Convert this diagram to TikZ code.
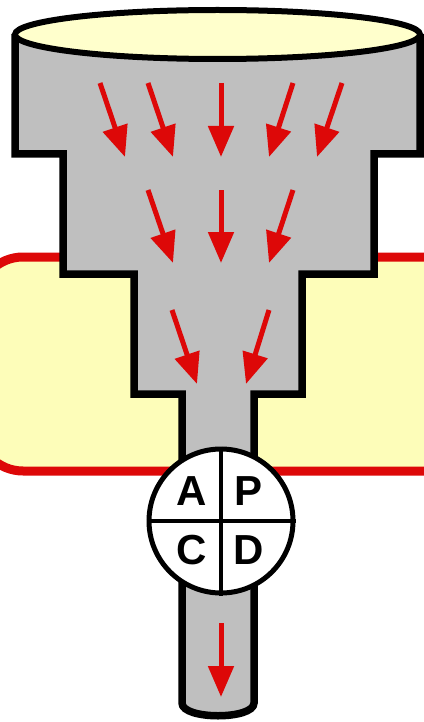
\documentclass[tikz,border=0pt]{standalone}
\usepackage{fontspec}
\setmainfont{Liberation Sans}
\usetikzlibrary{arrows.meta,shapes.geometric}
\definecolor{fred}{RGB}{221,8,8}
\definecolor{byel}{RGB}{253,253,185}
\definecolor{eyel}{RGB}{255,255,204}
\definecolor{fgray}{RGB}{191,191,191}
\tikzset{
  flow/.style={draw=fred, line width=5pt, -{Triangle[length=31pt,width=25pt]}},
  letter/.style={font=\fontsize{42}{42}\selectfont\bfseries, inner sep=0pt},
}
\begin{document}
\begin{tikzpicture}[x=1pt,y=-1pt]
\useasboundingbox (0,0) rectangle (423,722);
% yellow band
\draw[draw=fred, fill=byel, line width=9pt, rounded corners=45pt] (-22,257) rectangle (480,471);
% funnel
\path[fill=fgray, draw=black, line width=7.5pt, line join=miter]
  (15,34) -- (15,154) -- (63,154) -- (63,274) -- (134,274) -- (134,394) -- (182,394)
  -- (182,703) .. controls (182,720) and (254,720) .. (254,703)
  -- (254,394) -- (302,394) -- (302,274) -- (374,274) -- (374,154) -- (420,154) -- (420,34);
% top ellipse
\node[draw=black, fill=eyel, line width=6pt, ellipse, minimum width=405pt, minimum height=49pt, inner sep=0pt] (top) at (217.5,34.5) {};
% arrows
\coordinate (a1s) at (100,83);  \coordinate (a1e) at (125,157);
\coordinate (a2s) at (148,83);  \coordinate (a2e) at (173,157);
\coordinate (a3s) at (221,83);  \coordinate (a3e) at (221,157);
\coordinate (a4s) at (293,83);  \coordinate (a4e) at (269,157);
\coordinate (a5s) at (342,83);  \coordinate (a5e) at (317,157);
\coordinate (b1s) at (148,190); \coordinate (b1e) at (173,263);
\coordinate (b2s) at (221,190); \coordinate (b2e) at (221,263);
\coordinate (b3s) at (293,190); \coordinate (b3e) at (269,263);
\coordinate (c1s) at (172,310); \coordinate (c1e) at (197,384);
\coordinate (c2s) at (269,310); \coordinate (c2e) at (246,384);
\coordinate (d1s) at (221,623); \coordinate (d1e) at (221,697);
\foreach \n in {a1,a2,a3,a4,a5,b1,b2,b3,c1,c2,d1}
  \draw[flow] (\n s) -- (\n e);
% PDCA circle
\node[circle, draw=black, fill=white, line width=5pt, minimum size=144pt, inner sep=0pt] (pdca) at (221,521) {};
\draw[line width=4pt] (pdca.north) -- (pdca.south);
\draw[line width=4pt] (pdca.west) -- (pdca.east);
\node[letter] (A) at (192,491) {A};
\node[letter] (P) at (249,491) {P};
\node[letter] (C) at (192,550) {C};
\node[letter] (D) at (249,550) {D};
\end{tikzpicture}
\end{document}
